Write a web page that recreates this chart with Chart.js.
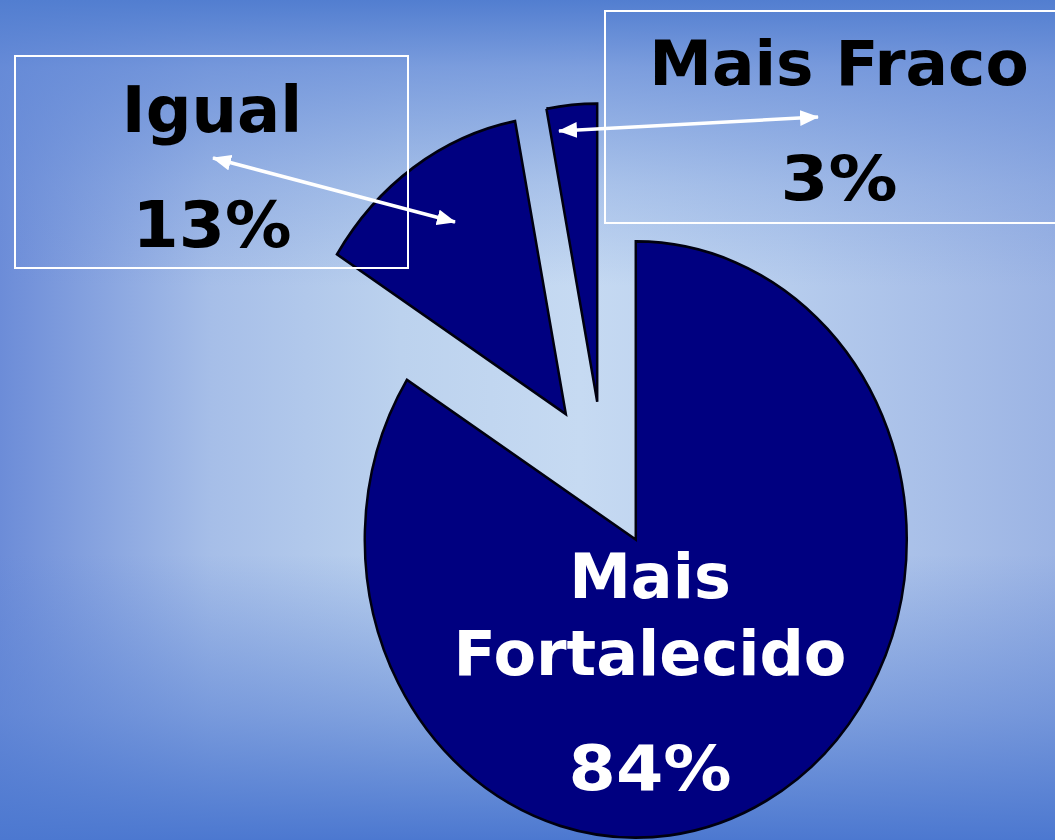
<!DOCTYPE html>
<html>
<head>
<meta charset="utf-8">
<script src="https://cdn.jsdelivr.net/npm/chart.js@4/dist/chart.umd.min.js"></script>
<style>
  html, body { margin: 0; padding: 0; }
  #wrap {
    position: relative; width: 1055px; height: 840px; overflow: hidden;
    background:
      linear-gradient(to bottom, rgba(82,126,208,1) 0%, rgba(100,138,215,0.75) 8%, rgba(105,142,216,0.3) 22%, rgba(110,145,218,0) 34%, rgba(90,130,212,0) 66%, rgba(90,130,212,0.6) 85%, rgba(76,120,208,1) 100%),
      linear-gradient(to right, #6c8cd8 0%, #a6bee8 20%, #bcd2ee 38%, #c6daf2 55%, #b6cced 75%, #9cb4e4 100%);
  }
  canvas { position: absolute; left: 0; top: 0; }
  svg { position: absolute; left: 0; top: 0; }
</style>
</head>
<body>
<div id="wrap">
  <canvas id="c0" width="1055" height="840"></canvas>
  <canvas id="c1" width="1055" height="840"></canvas>
  <canvas id="c2" width="1055" height="840"></canvas>
  <svg width="1055" height="840" viewBox="0 0 1055 840">
    <defs>
      <marker id="ah" markerUnits="userSpaceOnUse" markerWidth="19" markerHeight="16" refX="18" refY="8" orient="auto-start-reverse">
        <path d="M0,0 L19,8 L0,16 Z" fill="#ffffff"/>
      </marker>
    </defs>
    <rect x="15" y="56" width="393" height="212" fill="none" stroke="#ffffff" stroke-width="2"/>
    <rect x="605" y="11" width="470" height="212" fill="none" stroke="#ffffff" stroke-width="2"/>
    <line x1="213" y1="158" x2="455" y2="222" stroke="#ffffff" stroke-width="3.5" marker-start="url(#ah)" marker-end="url(#ah)"/>
    <line x1="559" y1="131" x2="818" y2="117" stroke="#ffffff" stroke-width="3.5" marker-start="url(#ah)" marker-end="url(#ah)"/>
    <g id="labels" font-family="'DejaVu Sans', Verdana, sans-serif" font-weight="bold" text-anchor="middle"></g>
  </svg>
</div>
<script>
// ---- data ----
const categories = ['Mais Fortalecido', 'Igual', 'Mais Fraco'];
const values = [84, 13, 3];
const percentLabels = ['84%', '13%', '3%'];

// ---- style ----
const W = 1055, H = 840;
const CX = 603.5, CY = 475;     // pie centre
const EXPLODE = 67;             // explode distance
const RADIUS = 271;
const KY = 1.1;                 // vertical stretch of the pie
const NAVY = '#000080';

const total = values.reduce((a, b) => a + b, 0);

const stretch = {
  id: 'stretch',
  beforeDatasetsDraw(chart) {
    const ctx = chart.ctx;
    ctx.save();
    ctx.translate(0, CY);
    ctx.scale(1, KY);
    ctx.translate(0, -CY);
  },
  afterDatasetsDraw(chart) { chart.ctx.restore(); }
};

let cum = 0;
values.forEach((v, i) => {
  const start = cum / total * 2 * Math.PI;
  const mid = start + v / total * Math.PI;
  cum += v;
  const cx = CX + EXPLODE * Math.sin(mid);
  const cy = CY - EXPLODE * Math.cos(mid);
  const padding = {
    left: Math.max(0, 2 * cx - W), right: Math.max(0, W - 2 * cx),
    top: Math.max(0, 2 * cy - H), bottom: Math.max(0, H - 2 * cy)
  };
  new Chart(document.getElementById('c' + i), {
    type: 'pie',
    data: {
      labels: categories,
      datasets: [{
        data: values,
        radius: RADIUS,
        backgroundColor: values.map((_, j) => j === i ? NAVY : 'rgba(0,0,0,0)'),
        borderColor: values.map((_, j) => j === i ? '#000010' : 'rgba(0,0,0,0)'),
        borderWidth: 2.5,
        borderJoinStyle: 'miter'
      }]
    },
    options: {
      responsive: false,
      animation: false,
      events: [],
      layout: { padding },
      plugins: { legend: { display: false }, tooltip: { enabled: false } }
    },
    plugins: [stretch]
  });
});

// ---- text labels ----
const labelSpecs = [
  { lines: ['Mais', 'Fortalecido', percentLabels[0]], x: 650, ys: [598, 675, 790], size: 62, color: '#ffffff', widths: [null, null, 163] },
  { lines: [categories[1], percentLabels[1]], x: 212, ys: [132, 247], size: 64, color: '#000000', widths: [null, 159] },
  { lines: [categories[2], percentLabels[2]], x: 839, ys: [85, 200], size: 63, color: '#000000', widths: [null, 117] }
];
const g = document.getElementById('labels');
labelSpecs.forEach(s => {
  s.lines.forEach((t, k) => {
    const el = document.createElementNS('http://www.w3.org/2000/svg', 'text');
    el.setAttribute('x', s.x);
    el.setAttribute('y', s.ys[k]);
    el.setAttribute('font-size', s.size);
    el.setAttribute('fill', s.color);
    if (s.widths[k]) {
      el.setAttribute('textLength', s.widths[k]);
      el.setAttribute('lengthAdjust', 'spacingAndGlyphs');
    }
    el.textContent = t;
    g.appendChild(el);
  });
});
</script>
</body>
</html>
